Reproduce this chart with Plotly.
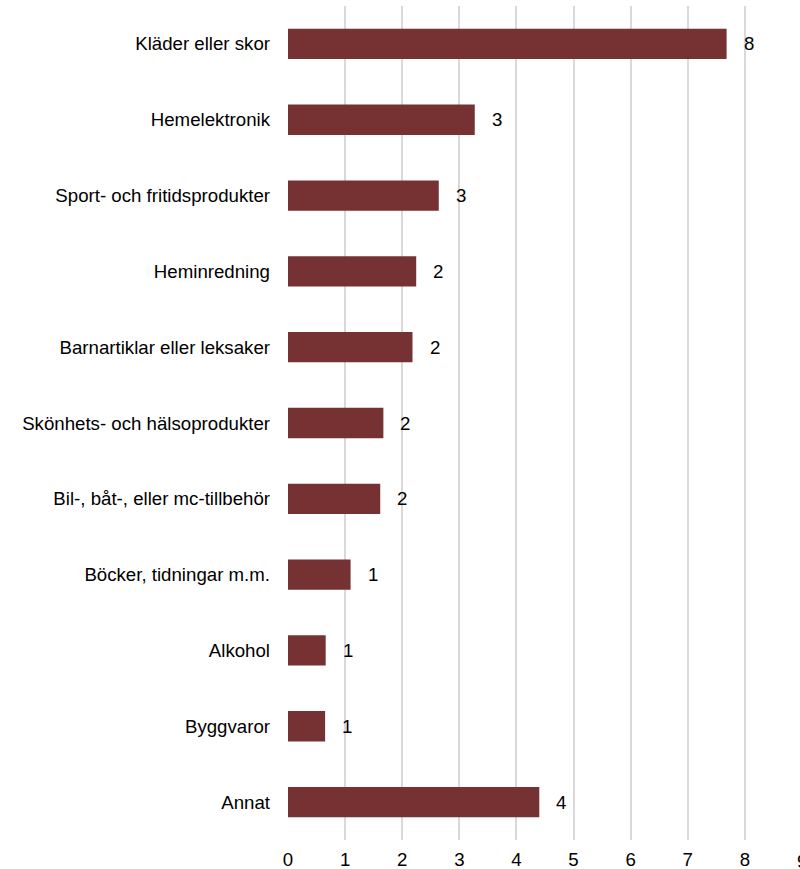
import plotly.graph_objects as go

categories = [
    "Kläder eller skor",
    "Hemelektronik",
    "Sport- och fritidsprodukter",
    "Heminredning",
    "Barnartiklar eller leksaker",
    "Skönhets- och hälsoprodukter",
    "Bil-, båt-, eller mc-tillbehör",
    "Böcker, tidningar m.m.",
    "Alkohol",
    "Byggvaror",
    "Annat",
]
values = [7.68, 3.27, 2.64, 2.245, 2.18, 1.67, 1.615, 1.096, 0.66, 0.65, 4.40]
x_ticks = [0, 1, 2, 3, 4, 5, 6, 7, 8, 9]

labels = [str(int(round(v))) for v in values]
bar_color = "#763232"
font = dict(family="Liberation Sans, Arial, sans-serif", size=18.67, color="#000000")

fig = go.Figure()
fig.add_trace(go.Bar(
    y=categories,
    x=values,
    orientation="h",
    marker=dict(color=bar_color, line=dict(width=0)),
    hoverinfo="skip",
))

x_max = 8.965
for c, v, t in zip(categories, values, labels):
    fig.add_annotation(x=v, y=c, xref="x", yref="y", text=t, showarrow=False,
                       xanchor="left", xshift=15, font=font)

# last tick label (partially cut off at right edge)
last = x_ticks[-1]
fig.add_annotation(x=last / x_max, y=0, xref="paper", yref="paper", yanchor="top",
                   yshift=-9, text=str(last), showarrow=False, xanchor="center", font=font)

fig.update_layout(
    width=800,
    height=869,
    margin=dict(l=288, r=0, t=6, b=29, autoexpand=False),
    plot_bgcolor="white",
    paper_bgcolor="white",
    bargap=0.6,
    showlegend=False,
    font=font,
)
fig.update_xaxes(
    range=[0, x_max],
    tickvals=x_ticks[:-1],
    ticktext=[str(t) for t in x_ticks[:-1]],
    showgrid=True,
    gridcolor="#d9d9d9",
    gridwidth=2,
    zeroline=False,
    showline=False,
    ticks="",
    ticklabelstandoff=6,
    tickfont=font,
    automargin=False,
)
fig.update_yaxes(
    categoryorder="array",
    categoryarray=categories[::-1],
    autorange=False,
    range=[-0.5, len(categories) - 0.5],
    showgrid=False,
    zeroline=False,
    showline=False,
    ticks="",
    ticklabelstandoff=17,
    tickfont=font,
    automargin=False,
)

fig.write_html(
    "out.html",
    config={"displayModeBar": False},
    post_script="document.body.style.margin='0px';document.body.style.overflow='hidden';",
)
